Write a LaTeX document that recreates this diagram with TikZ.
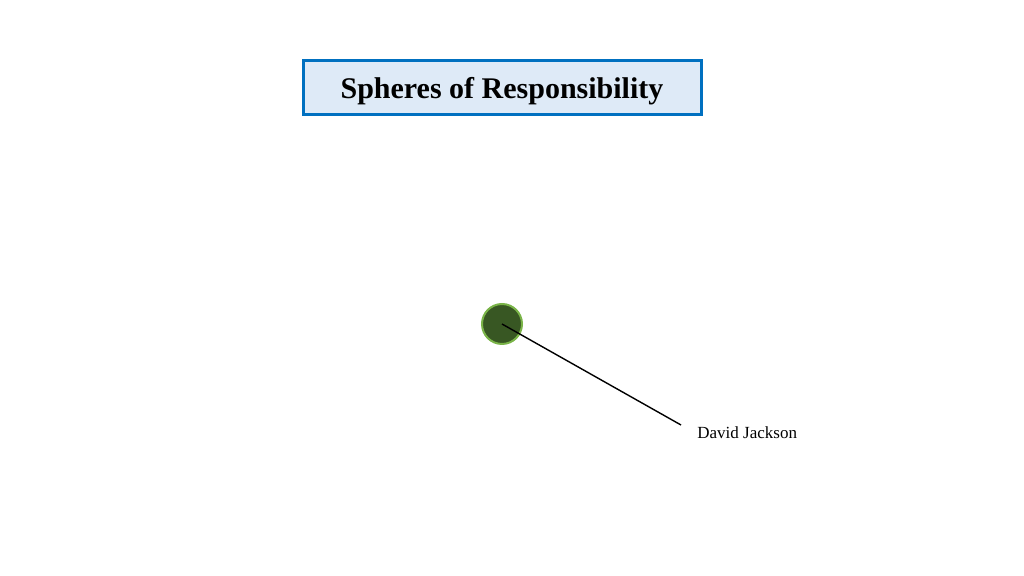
\documentclass[tikz,border=0pt]{standalone}
\usepackage{fontspec}
\setmainfont{Liberation Serif}
\usetikzlibrary{positioning}
\definecolor{titleblue}{RGB}{0,112,192}
\definecolor{titlefill}{RGB}{222,234,247}
\definecolor{spheregreen}{RGB}{56,87,35}
\definecolor{sphererim}{RGB}{122,180,72}
\tikzset{
    titlebox/.style={draw=titleblue, fill=titlefill, line width=1.5pt,
        minimum width=199pt, minimum height=27pt, inner sep=0pt, text depth=0pt,
        font=\fontsize{15}{18}\selectfont\bfseries},
    sphere/.style={circle, draw=sphererim, fill=spheregreen, line width=1pt,
        minimum size=20pt, inner sep=0pt},
    pointer/.style={draw=black, line width=0.7pt},
    namelabel/.style={anchor=west, inner sep=0pt, font=\fontsize{8.5}{10}\selectfont},
}
\begin{document}
\begin{tikzpicture}[x=0.5pt, y=-0.5pt]
\useasboundingbox (0,0) rectangle (1024,576);
\node[titlebox] (title) at (502,88) {Spheres of Responsibility};
\node[sphere] (dj) at (502,324) {};
\coordinate (djend) at (681,425);
\node[namelabel] (djname) at (697,433) {David Jackson};
\draw[pointer] (dj.center) -- (djend);
\end{tikzpicture}
\end{document}
